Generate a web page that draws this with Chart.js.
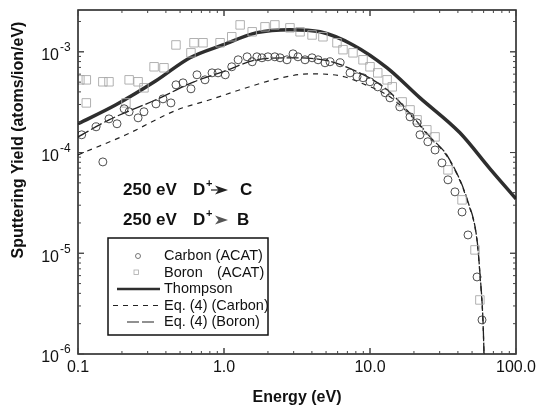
<!DOCTYPE html>
<html>
<head>
<meta charset="utf-8">
<script src="https://cdn.jsdelivr.net/npm/chart.js@4.4.0/dist/chart.umd.min.js"></script>
<style>
  html, body { margin: 0; padding: 0; background: #fff; }
  #contenedor { width: 542px; height: 416px; }
</style>
</head>
<body>
<div id="contenedor"><canvas id="grafico" width="542" height="416"></canvas></div>
<script>
// Carbon (ACAT) - circulos
const carbonE = [0.106, 0.133, 0.148, 0.163, 0.185, 0.207, 0.224, 0.258, 0.283, 0.342, 0.382, 0.433, 0.469, 0.524, 0.594,
    0.653, 0.741, 0.828, 0.910, 1.02, 1.13, 1.25, 1.44, 1.56, 1.68, 1.82, 2.00, 2.23, 2.42, 2.70, 2.97, 3.21, 3.59, 4.01,
    4.41, 4.92, 5.32, 6.24, 7.30, 8.15, 8.96, 10.0, 11.3, 12.7, 13.7, 16.0, 18.8, 21.0, 22.0, 24.9, 27.9, 31.1, 34.2,
    38.2, 42.7, 46.9, 54.1, 58.5];
const carbonY = [1.50e-4, 1.80e-4, 8.07e-5, 2.16e-4, 1.93e-4, 2.72e-4, 2.54e-4, 2.21e-4, 2.54e-4, 3.04e-4, 3.41e-4, 3.11e-4,
    4.70e-4, 4.92e-4, 4.29e-4, 5.91e-4, 5.27e-4, 6.18e-4, 6.18e-4, 5.91e-4, 7.10e-4, 8.33e-4, 8.92e-4, 7.96e-4, 8.92e-4,
    8.72e-4, 8.92e-4, 8.92e-4, 8.72e-4, 8.33e-4, 9.55e-4, 8.92e-4, 8.33e-4, 8.72e-4, 8.33e-4, 7.78e-4, 7.96e-4, 7.78e-4,
    6.18e-4, 5.65e-4, 5.52e-4, 5.04e-4, 4.49e-4, 3.92e-4, 3.49e-4, 2.84e-4, 2.26e-4, 1.97e-4, 1.50e-4, 1.28e-4, 1.06e-4,
    7.89e-5, 5.36e-5, 4.07e-5, 2.57e-5, 1.52e-5, 5.82e-6, 2.18e-6];

// Boron (ACAT) - cuadrados
const boronE = [0.103, 0.114, 0.114, 0.148, 0.163, 0.213, 0.224, 0.258, 0.283, 0.332, 0.388, 0.469, 0.594, 0.623, 0.718,
    0.940, 1.13, 1.29, 1.56, 1.91, 2.23, 2.83, 3.32, 4.01, 4.76, 5.94, 6.53, 7.65, 8.96, 10.0, 11.3, 13.1, 14.2, 16.6,
    18.8, 21.0, 24.5, 27.9, 34.2, 42.7, 52.4, 56.6];
const boronY = [5.27e-4, 5.27e-4, 3.11e-4, 5.04e-4, 5.04e-4, 3.11e-4, 5.27e-4, 5.04e-4, 4.39e-4, 7.10e-4, 6.94e-4, 1.17e-3,
    9.77e-4, 1.23e-3, 1.23e-3, 1.23e-3, 1.41e-3, 1.85e-3, 1.58e-3, 1.77e-3, 1.85e-3, 1.73e-3, 1.58e-3, 1.47e-3, 1.41e-3,
    1.23e-3, 1.05e-3, 9.77e-4, 8.33e-4, 7.10e-4, 6.18e-4, 5.27e-4, 4.49e-4, 3.18e-4, 2.65e-4, 2.11e-4, 1.68e-4, 1.43e-4,
    6.73e-5, 3.39e-5, 1.08e-5, 3.44e-6];

// Thompson
const thompsonE = [0.1, 0.182, 0.342, 0.585, 0.98, 1.68, 2.83, 4.55, 7.65, 13.1, 22.0, 41.3, 66.4, 100];
const thompsonY = [1.93e-4, 2.98e-4, 5.15e-4, 8.72e-4, 1.17e-3, 1.55e-3, 1.66e-3, 1.58e-3, 1.17e-3, 6.93e-4, 3.49e-4,
    1.57e-4, 6.89e-5, 3.47e-5];

// Eq. (4) (Carbon) - guiones cortos
const eqCarbonE = [0.1, 0.213, 0.477, 0.80, 1.35, 2.31, 3.86, 6.24, 8.96, 13.7, 19.7, 25.8, 34.2, 46.9, 54.1, 56.6, 59.4, 60.4];
const eqCarbonY = [9.49e-5, 1.50e-4, 2.65e-4, 3.34e-4, 4.29e-4, 5.39e-4, 6.04e-4, 5.78e-4, 4.81e-4, 3.57e-4, 2.21e-4,
    1.40e-4, 8.87e-5, 3.17e-5, 1.33e-5, 6.2e-6, 2.1e-6, 1e-6];

// Eq. (4) (Boron) - guiones largos
const eqBoronE = [0.1, 0.163, 0.342, 0.623, 0.98, 1.68, 2.83, 4.76, 7.65, 13.1, 19.7, 25.8, 34.2, 46.9, 54.1, 56.6, 59.4, 60.4];
const eqBoronY = [1.43e-4, 2.11e-4, 3.34e-4, 5.04e-4, 6.33e-4, 8.33e-4, 8.72e-4, 8.33e-4, 6.62e-4, 4.20e-4, 2.26e-4,
    1.43e-4, 9.06e-5, 3.24e-5, 1.36e-5, 6.38e-6, 2.18e-6, 1e-6];

// Etiquetas de los ejes
const etiquetasX = [0.1, 1, 10, 100];
const textosX = ['0.1', '1.0', '10.0', '100.0'];
const etiquetasY = [1e-6, 1e-5, 1e-4, 1e-3];
const exponentesY = ['-6', '-5', '-4', '-3'];

const leyenda = ['Carbon (ACAT)', 'Boron', 'Thompson', 'Eq. (4) (Carbon)', 'Eq. (4) (Boron)'];

function puntos(xs, ys) {
    return xs.map((x, i) => ({ x: x, y: ys[i] }));
}

const FUENTE = '"Liberation Sans", Arial, Helvetica, sans-serif';

const decoracion = {
    id: 'decoracion',
    afterDraw(chart) {
        const ctx = chart.ctx;
        const a = chart.chartArea;
        const sx = chart.scales.x;
        const sy = chart.scales.y;
        ctx.save();

        // marco
        ctx.strokeStyle = '#1a1a1a';
        ctx.lineWidth = 1.5;
        ctx.strokeRect(a.left, a.top, a.right - a.left, a.bottom - a.top);

        // marcas de los ejes (hacia dentro, en los cuatro lados)
        ctx.lineWidth = 1;
        ctx.strokeStyle = '#444';
        ctx.beginPath();
        [0.1, 1, 10].forEach(d => {
            for (let m = 1; m <= 10; m++) {
                const px = sx.getPixelForValue(d * m);
                const len = (m === 1 || m === 10) ? 6 : 3;
                ctx.moveTo(px, a.bottom); ctx.lineTo(px, a.bottom - len);
                ctx.moveTo(px, a.top); ctx.lineTo(px, a.top + len);
            }
        });
        [1e-6, 1e-5, 1e-4, 1e-3].forEach(d => {
            for (let m = 1; m <= 10; m++) {
                const v = d * m;
                if (v > sy.max) break;
                const py = sy.getPixelForValue(v);
                const len = (m === 1 || m === 10) ? 6 : 3;
                ctx.moveTo(a.left, py); ctx.lineTo(a.left + len, py);
                ctx.moveTo(a.right, py); ctx.lineTo(a.right - len, py);
            }
        });
        ctx.stroke();

        // etiquetas del eje X
        ctx.fillStyle = '#111';
        ctx.font = '16px ' + FUENTE;
        ctx.textAlign = 'center';
        ctx.textBaseline = 'middle';
        etiquetasX.forEach((v, i) => {
            ctx.fillText(textosX[i], sx.getPixelForValue(v), 368);
        });

        // etiquetas del eje Y con exponente
        etiquetasY.forEach((v, i) => {
            const py = sy.getPixelForValue(v);
            ctx.font = '16px ' + FUENTE;
            ctx.textAlign = 'right';
            ctx.fillText('10', 59, py + 4);
            ctx.font = '12px ' + FUENTE;
            ctx.textAlign = 'left';
            ctx.fillText(exponentesY[i], 60, py - 4);
        });

        // titulos
        ctx.font = 'bold 16px ' + FUENTE;
        ctx.textAlign = 'center';
        ctx.fillText('Energy (eV)', (a.left + a.right) / 2, 398);
        ctx.save();
        ctx.translate(19, 140);
        ctx.rotate(-Math.PI / 2);
        ctx.fillText('Sputtering Yield (atoms/ion/eV)', 0, 0);
        ctx.restore();

        // anotaciones 250 eV D+ -> C / B
        ctx.font = 'bold 17px ' + FUENTE;
        ctx.textAlign = 'left';
        [[190, 'C', 240, true], [220, 'B', 237, false]].forEach(([y, letra, xl, conLinea]) => {
            ctx.fillStyle = '#111';
            ctx.font = 'bold 17px ' + FUENTE;
            ctx.fillText('250 eV', 123, y);
            ctx.fillText('D', 193, y);
            ctx.font = 'bold 11px ' + FUENTE;
            ctx.fillText('+', 206, y - 6);
            ctx.font = 'bold 17px ' + FUENTE;
            ctx.fillText(letra, xl, y);
            if (conLinea) {
                ctx.strokeStyle = '#222';
                ctx.lineWidth = 1.2;
                ctx.beginPath();
                ctx.moveTo(211, y); ctx.lineTo(220, y);
                ctx.stroke();
            }
            ctx.fillStyle = conLinea ? '#222' : '#555';
            ctx.beginPath();
            ctx.moveTo(215, y - 4.5);
            ctx.lineTo(228, y);
            ctx.lineTo(215, y + 4.5);
            ctx.lineTo(218.5, y);
            ctx.closePath();
            ctx.fill();
        });

        // leyenda
        ctx.fillStyle = '#fff';
        ctx.fillRect(108, 238, 160, 97);
        ctx.strokeStyle = '#111';
        ctx.lineWidth = 1.5;
        ctx.strokeRect(108, 238, 160, 97);
        ctx.font = '14.5px ' + FUENTE;
        ctx.textAlign = 'left';
        ctx.textBaseline = 'middle';
        ctx.fillStyle = '#111';
        leyenda.forEach((t, i) => {
            ctx.fillText(t, 164, 256 + i * 16.5);
        });
        ctx.fillText('(ACAT)', 217, 256 + 16.5);

        const ds = chart.data.datasets;
        // circulo
        ctx.strokeStyle = '#555';
        ctx.lineWidth = 0.8;
        ctx.beginPath();
        ctx.arc(138, 256, 2.5, 0, Math.PI * 2);
        ctx.stroke();
        // cuadrado
        ctx.strokeStyle = '#aaa';
        ctx.strokeRect(134, 270, 4.5, 4.5);
        // lineas
        const muestras = [[2, 117, 160, 289], [3, 113, 160, 305.5], [4, 127, 157, 322]];
        muestras.forEach(([k, x0, x1, y]) => {
            ctx.strokeStyle = ds[k].borderColor;
            ctx.lineWidth = k === 2 ? 2.5 : 1.1;
            ctx.setLineDash(ds[k].borderDash || []);
            ctx.beginPath();
            ctx.moveTo(x0, y); ctx.lineTo(x1, y);
            ctx.stroke();
        });
        ctx.setLineDash([]);
        ctx.restore();
    }
};

new Chart(document.getElementById('grafico').getContext('2d'), {
    type: 'scatter',
    data: {
        datasets: [
            {
                label: 'Carbon (ACAT)',
                data: puntos(carbonE, carbonY),
                pointStyle: 'circle',
                pointRadius: 4,
                pointBorderWidth: 0.9,
                pointBorderColor: '#3a3a3a',
                pointBackgroundColor: 'rgba(0,0,0,0)',
                showLine: false,
                order: 1
            },
            {
                label: 'Boron (ACAT)',
                data: puntos(boronE, boronY),
                pointStyle: 'rect',
                pointRadius: 6,
                pointBorderWidth: 0.9,
                pointBorderColor: '#a8a8a8',
                pointBackgroundColor: 'rgba(0,0,0,0)',
                showLine: false,
                order: 2
            },
            {
                label: 'Thompson',
                data: puntos(thompsonE, thompsonY),
                showLine: true,
                borderColor: '#2e2e2e',
                borderWidth: 3.5,
                pointRadius: 0,
                cubicInterpolationMode: 'monotone',
                order: 3
            },
            {
                label: 'Eq. (4) (Carbon)',
                data: puntos(eqCarbonE, eqCarbonY),
                showLine: true,
                borderColor: '#222',
                borderWidth: 1.2,
                borderDash: [5, 5],
                pointRadius: 0,
                cubicInterpolationMode: 'monotone',
                order: 4
            },
            {
                label: 'Eq. (4) (Boron)',
                data: puntos(eqBoronE, eqBoronY),
                showLine: true,
                borderColor: '#222',
                borderWidth: 1.3,
                borderDash: [12, 3],
                pointRadius: 0,
                cubicInterpolationMode: 'monotone',
                order: 5
            }
        ]
    },
    options: {
        responsive: false,
        animation: false,
        devicePixelRatio: 1,
        layout: { padding: { top: 10, right: 26, left: 0, bottom: 0 } },
        plugins: {
            legend: { display: false },
            tooltip: { enabled: false }
        },
        scales: {
            x: {
                type: 'logarithmic',
                min: 0.1,
                max: 100,
                grid: { display: false },
                border: { display: false },
                ticks: { display: false },
                afterFit: (scale) => { scale.height = 62; }
            },
            y: {
                type: 'logarithmic',
                min: 1e-6,
                max: 2.6e-3,
                grid: { display: false },
                border: { display: false },
                ticks: { display: false },
                afterFit: (scale) => { scale.width = 78; }
            }
        }
    },
    plugins: [decoracion]
});
</script>
</body>
</html>
